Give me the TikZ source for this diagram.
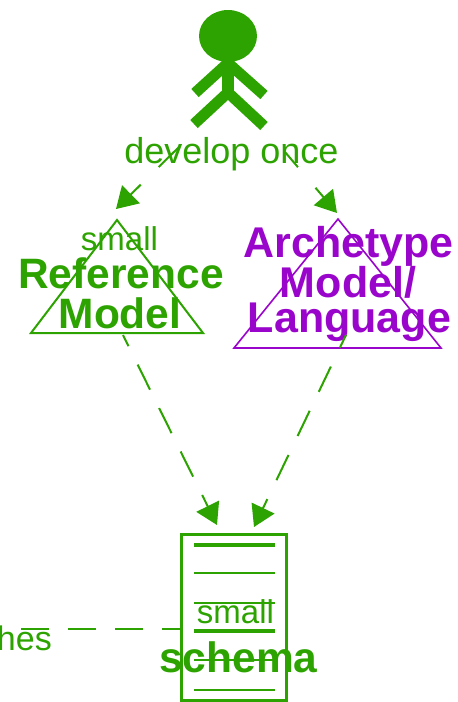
\documentclass[tikz,border=0pt]{standalone}
\usepackage{fontspec}
\setmainfont{Liberation Sans}
\usetikzlibrary{arrows.meta,shapes.geometric}
\definecolor{grn}{HTML}{2CA300}
\definecolor{pur}{HTML}{9A05CC}
\tikzset{
  x=1pt,y=-1pt,
  lbl/.style={anchor=base,inner sep=0pt,text=grn,font=\fontsize{33}{40}\selectfont},
  bold/.style={anchor=base,inner sep=0pt,text=grn,font=\fontsize{42.5}{50}\selectfont\bfseries},
  boldp/.style={bold,text=pur,font=\fontsize{43}{50}\selectfont\bfseries},
  limb/.style={draw=grn,line width=11pt,line cap=butt,line join=miter},
  conn/.style={draw=grn,line width=2pt,-{Triangle[length=21pt,width=25pt]}},
  barthick/.style={draw=grn,line width=3.5pt},
  barthin/.style={draw=grn,line width=2.2pt},
  dashA/.style={dash pattern=on 30pt off 25pt},
  dashA2/.style={dash pattern=on 30pt off 27pt,dash phase=10pt},
  dashB/.style={dash pattern=on 28pt off 20.5pt,dash phase=15.5pt},
  dashB2/.style={dash pattern=on 28pt off 21pt,dash phase=14pt}
}
\begin{document}
\begin{tikzpicture}
\useasboundingbox (0,0) rectangle (458,702);
% actor
\node[ellipse,fill=grn,minimum width=58pt,minimum height=52pt,inner sep=0pt] (head) at (228,36) {};
\coordinate (neck) at (228,60);
\coordinate (hip) at (228,92.5);
\coordinate (shoulder) at (228,63);
\coordinate (handL) at (195,93);
\coordinate (handR) at (264,95);
\coordinate (footL) at (194,124);
\coordinate (footR) at (264,126);
\draw[limb] (handL) -- (shoulder) -- (handR);
\draw[limb] (footL) -- (hip) -- (footR);
\draw[limb,line width=12pt] (neck) -- (hip);
% labels
\node[lbl,font=\fontsize{36}{40}\selectfont] (dev) at (231.5,163) {develop once};
% reference model
\coordinate (rmT) at (117,220);
\coordinate (rmL) at (31,333);
\coordinate (rmR) at (203,333);
\draw[draw=grn,line width=2pt,line join=miter] (rmT) -- (rmL) -- (rmR) -- cycle;
\node[lbl] (rmS) at (119.5,250) {small};
\node[bold] (rm1) at (121,288) {Reference};
\node[bold] (rm2) at (120,328) {Model};
% archetype
\coordinate (amT) at (338,219);
\coordinate (amL) at (234,348);
\coordinate (amR) at (441,348);
\draw[draw=pur,line width=1.6pt,line join=miter] (amT) -- (amL) -- (amR) -- cycle;
\node[boldp] (am1) at (348.5,257) {Archetype};
\node[boldp] (am2) at (348,297) {Model/};
\node[boldp] (am3) at (349.5,332) {Language};
% schema
\node[draw=grn,line width=3pt,minimum width=105pt,minimum height=166pt,inner sep=0pt] (box) at (234,617) {};
\coordinate (bL1) at (194,545); \coordinate (bR1) at (275,545);
\coordinate (bL2) at (194,573); \coordinate (bR2) at (275,573);
\coordinate (bL3) at (194,603); \coordinate (bR3) at (275,603);
\coordinate (bL4) at (194,631); \coordinate (bR4) at (275,631);
\coordinate (bL5) at (194,660); \coordinate (bR5) at (275,660);
\coordinate (bL6) at (194,690); \coordinate (bR6) at (275,690);
\draw[barthick] (bL1) -- (bR1);
\draw[barthin] (bL2) -- (bR2);
\draw[barthin] (bL3) -- (bR3);
\draw[barthick] (bL4) -- (bR4);
\draw[barthin] (bL5) -- (bR5);
\draw[barthin] (bL6) -- (bR6);
\node[lbl] (sS) at (235.5,623) {small};
\node[bold] (s1) at (238.5,672) {schema};
% free label
\node[lbl,anchor=base east,font=\fontsize{34}{40}\selectfont] (hes) at (52,650) {hes};
% connectors
\coordinate (a1) at (180,146);
\coordinate (a1t) at (116,209);
\coordinate (a2) at (285,152);
\coordinate (a2t) at (337,213);
\coordinate (b1) at (123,335);
\coordinate (b1t) at (217,525);
\coordinate (b2) at (346,335);
\coordinate (b2t) at (254,527);
\coordinate (c0) at (21,629);
\draw[conn,dashA] (a1) -- (a1t);
\draw[conn,dashA2] (a2) -- (a2t);
\draw[conn,dashB] (b1) -- (b1t);
\draw[conn,dashB2] (b2) -- (b2t);
\draw[draw=grn,line width=2pt,dash pattern=on 28pt off 19pt] (c0) -- (box.west |- c0);
\end{tikzpicture}
\end{document}
